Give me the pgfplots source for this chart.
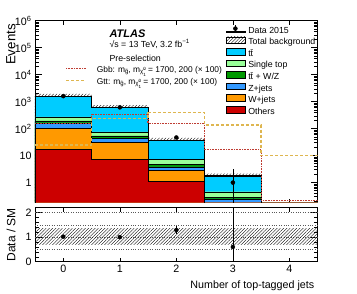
\documentclass[border=0pt]{standalone}
\usepackage{fontspec}
\setmainfont{Liberation Sans}
\usepackage{pgfplots}
\usepackage{pgfplotstable}
\pgfplotsset{compat=1.18}
\usetikzlibrary{patterns.meta}

\definecolor{cTT}{RGB}{0,204,255}
\definecolor{cST}{RGB}{153,255,153}
\definecolor{cTV}{RGB}{0,153,0}
\definecolor{cZ}{RGB}{51,153,255}
\definecolor{cW}{RGB}{255,153,0}
\definecolor{cO}{RGB}{204,0,0}
\definecolor{cGbb}{RGB}{190,60,50}
\definecolor{cGtt}{RGB}{222,182,80}

% cumulative stack (bin low edge), last row closes the step
\pgfplotstableread{
x    tot    hat   st     tv     z      w      o      gbb    gtt
-0.5 1580   1930  275    195    165    104    17.3   150    25
0.5  615    750   76     54     44     31     7.4    325    240
1.5  37.5   45.5  7.4    4.8    3.8    2.9    1.1    160    387
2.5  1.76   2.15  0.46   0.29   0.25   0.12   0.08   16.3   138
3.5  0.001  0.001 0.001  0.001  0.001  0.001  0.001  0.21   10.3
4.5  0.001  0.001 0.001  0.001  0.001  0.001  0.001  0.21   10.3
}\bkg

\pgfplotstableread{
x y ep em
0 1600 40 40
1 615 25 25
2 47 7 7
3 1 2.2 0.83
}\data

\pgfplotstableread{
x y ep em
0 1.02 0.03 0.03
1 1.00 0.04 0.04
2 1.29 0.17 0.17
3 0.60 1.42 0.45
}\ratio

\newcommand{\smallfont}{\fontsize{8.8bp}{10bp}\selectfont}
\newcommand{\tickfont}{\fontsize{10.7bp}{12bp}\selectfont}
\newcommand{\mgl}{m\raisebox{-0.2em}{\fontsize{6bp}{6bp}\selectfont \~{g}}}
\newcommand{\mchi}{m\raisebox{-0.2em}{\fontsize{6bp}{6bp}\selectfont \~{χ}\raisebox{0.6em}{\fontsize{4.5bp}{5bp}\selectfont 0}\kern-2.5bp\raisebox{-0.35em}{\fontsize{4.5bp}{5bp}\selectfont 1}}}

\begin{document}
\begin{tikzpicture}
\useasboundingbox (0,0) rectangle (357bp,-294bp);
\begin{axis}[
  at={(35bp,-20.7bp)}, anchor=north west,
  scale only axis, width=282.7bp, height=182bp,
  ymode=log, log origin=infty,
  xmin=-0.5, xmax=4.5, ymin=0.18, ymax=1e6,
  xtick={0,1,2,3,4}, xticklabels={},
  ytick={1,10,100,1000,10000,100000,1000000},
  yticklabels={1,10,10\textsuperscript{2},10\textsuperscript{3},10\textsuperscript{4},10\textsuperscript{5},10\textsuperscript{6}},
  minor ytick={0.2,0.3,0.4,0.5,0.6,0.7,0.8,0.9,2,3,4,5,6,7,8,9,20,30,40,50,60,70,80,90,200,300,400,500,600,700,800,900,2000,3000,4000,5000,6000,7000,8000,9000,20000,30000,40000,50000,60000,70000,80000,90000,200000,300000,400000,500000,600000,700000,800000,900000},
  tick align=inside,
  major tick length=7bp, minor tick length=3.5bp,
  xtick style={/pgfplots/major tick length=4bp},
  tick style={black, line width=0.5bp},
  axis line style={line width=0.7bp},
  yticklabel style={font=\tickfont},
  ylabel={Events},
  ylabel style={font=\fontsize{13.3bp}{15bp}\selectfont, at={([xshift=-19.5bp]rel axis cs:0,1)}, anchor=base east},
  legend style={draw=none, fill=none, at={(rel axis cs:0.6756,0.980)}, anchor=north west,
     inner sep=0pt, row sep=0pt, column sep=2.7bp, font=\smallfont,
     nodes={inner sep=0pt, text height=6.5bp, text depth=3.26bp}},
  legend cell align=left,
]
% hatched uncertainty band (visible above the stack)
\addplot[forget plot, const plot mark left, draw=none, pattern={Lines[angle=45,distance=2.3bp,line width=0.35bp]}] table[x=x,y=hat]{\bkg} \closedcycle;
% stack
\addplot[forget plot, const plot mark left, fill=cTT, draw=black, line width=0.35bp] table[x=x,y=tot]{\bkg} \closedcycle;
\addplot[forget plot, const plot mark left, fill=cST, draw=black, line width=0.35bp] table[x=x,y=st]{\bkg} \closedcycle;
\addplot[forget plot, const plot mark left, fill=cTV, draw=black, line width=0.35bp] table[x=x,y=tv]{\bkg} \closedcycle;
\addplot[forget plot, const plot mark left, fill=cZ, draw=black, line width=0.35bp] table[x=x,y=z]{\bkg} \closedcycle;
\addplot[forget plot, const plot mark left, fill=cW, draw=black, line width=0.35bp] table[x=x,y=w]{\bkg} \closedcycle;
\addplot[forget plot, const plot mark left, fill=cO, draw=black, line width=0.35bp] table[x=x,y=o]{\bkg} \closedcycle;
% total line
\addplot[forget plot, const plot mark left, draw=black, line width=1bp] table[x=x,y=tot]{\bkg};
% signals
\addplot[forget plot, const plot mark left, draw=cGbb, dash pattern=on 0.8bp off 0.8bp, line width=1.2bp] table[x=x,y=gbb]{\bkg};
\addplot[forget plot, const plot mark left, draw=cGtt, dash pattern=on 3bp off 2bp, line width=1.4bp] table[x=x,y=gtt]{\bkg};
% data
\addplot[forget plot, only marks, mark=*, mark size=2bp, black,
  error bars/.cd, y dir=both, y explicit, error mark=none, error bar style={line width=0.6bp}]
  table[x=x,y=y,y error plus=ep,y error minus=em]{\data};

% legend
\addlegendimage{legend image code/.code={\draw[line width=0.6bp] (9bp,-0.6bp)--(9bp,6.9bp); \fill (9bp,3.15bp) circle (2bp); \path (0bp,0bp) rectangle (19bp,1bp);}}
\addlegendentry{Data 2015}
\addlegendimage{legend image code/.code={\fill[pattern={Lines[angle=45,distance=2.3bp,line width=0.35bp]}] (0bp,0bp) rectangle (19bp,6.3bp);}}
\addlegendentry{Total background}
\addlegendimage{legend image code/.code={\draw[fill=cTT,line width=0.4bp] (0bp,-0.2bp) rectangle (19bp,6.5bp);}}
\addlegendentry{t\={t}}
\addlegendimage{legend image code/.code={\draw[fill=cST,line width=0.4bp] (0bp,-0.2bp) rectangle (19bp,6.5bp);}}
\addlegendentry{Single top}
\addlegendimage{legend image code/.code={\draw[fill=cTV,line width=0.4bp] (0bp,-0.2bp) rectangle (19bp,6.5bp);}}
\addlegendentry{t\={t} + W/Z}
\addlegendimage{legend image code/.code={\draw[fill=cZ,line width=0.4bp] (0bp,-0.2bp) rectangle (19bp,6.5bp);}}
\addlegendentry{Z+jets}
\addlegendimage{legend image code/.code={\draw[fill=cW,line width=0.4bp] (0bp,-0.2bp) rectangle (19bp,6.5bp);}}
\addlegendentry{W+jets}
\addlegendimage{legend image code/.code={\draw[fill=cO,line width=0.4bp] (0bp,-0.2bp) rectangle (19bp,6.5bp);}}
\addlegendentry{Others}

% labels
\node[anchor=base west, font=\fontsize{11bp}{13bp}\selectfont\bfseries\itshape] at (rel axis cs:0.2511,0.9093) {ATLAS};
\node[anchor=base west, font=\smallfont] at (rel axis cs:0.2511,0.8516) {√s = 13 TeV, 3.2 fb\textsuperscript{−1}};
\node[anchor=base west, font=\smallfont] at (rel axis cs:0.2511,0.7747) {Pre-selection};
\draw[cGbb, dash pattern=on 0.8bp off 0.8bp, line width=1.2bp] (rel axis cs:0.1097,0.7363) -- (rel axis cs:0.1804,0.7363);
\node[anchor=base west, inner ysep=0pt, font=\fontsize{8.4bp}{10bp}\selectfont] at (rel axis cs:0.2062,0.7165) {Gbb: \mgl, \mchi\ = 1700, 200 (× 100)};
\draw[cGtt, dash pattern=on 3bp off 2bp, line width=1.4bp] (rel axis cs:0.1097,0.6703) -- (rel axis cs:0.1804,0.6703);
\node[anchor=base west, inner ysep=0pt, font=\fontsize{8.4bp}{10bp}\selectfont] at (rel axis cs:0.2062,0.6505) {Gtt: \mgl, \mchi\ = 1700, 200 (× 100)};
\end{axis}

\begin{axis}[
  at={(35bp,-207.7bp)}, anchor=north west,
  scale only axis, width=282.7bp, height=54bp,
  xmin=-0.5, xmax=4.5, ymin=0, ymax=2.2,
  xtick={0,1,2,3,4}, ytick={0,1,2}, minor y tick num=4,
  /pgf/number format/assume math mode=true,
  tick align=inside,
  major tick length=7bp, minor tick length=3.5bp,
  xtick style={/pgfplots/major tick length=4bp},
  tick style={black, line width=0.5bp},
  axis line style={line width=0.7bp},
  ticklabel style={font=\tickfont},
  extra y ticks={0.5,1,1.5,2}, extra y tick labels={},
  extra y tick style={grid=major, major grid style={black!65, dotted, line width=0.6bp}, /pgfplots/major tick length=0pt},
  xlabel={Number of top-tagged jets},
  xlabel style={font=\tickfont, at={(rel axis cs:1,0)}, anchor=base east, yshift=-26.3bp},
  ylabel={Data / SM},
  ylabel style={font=\fontsize{12bp}{14bp}\selectfont, at={([xshift=-19.5bp]rel axis cs:0,0.5)}, anchor=base},
]
\addplot[draw=none, pattern={Lines[angle=45,distance=2.3bp,line width=0.35bp]}] coordinates {(-0.5,0.7) (4.5,0.7) (4.5,1.35) (-0.5,1.35) (-0.5,0.7)};
\addplot[only marks, mark=*, mark size=2bp, black,
  error bars/.cd, y dir=both, y explicit, error mark=none, error bar style={line width=0.6bp}]
  table[x=x,y=y,y error plus=ep,y error minus=em]{\ratio};
\end{axis}
\end{tikzpicture}
\end{document}
